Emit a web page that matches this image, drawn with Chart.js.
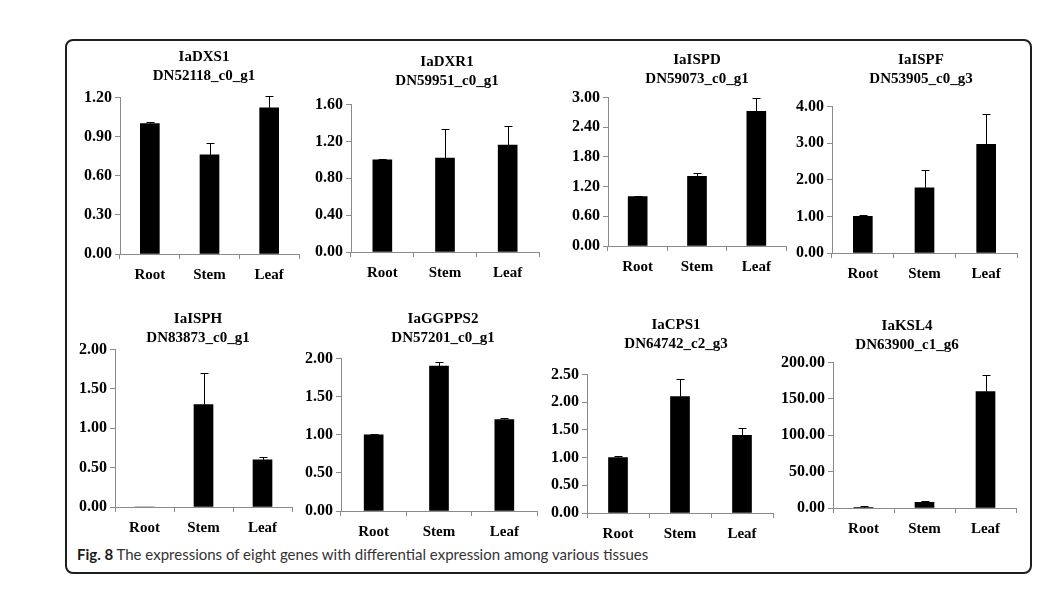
<!DOCTYPE html>
<html>
<head>
<meta charset="utf-8">
<script src="https://cdn.jsdelivr.net/npm/chart.js@4.4.1/dist/chart.umd.min.js"></script>
<style>
  body { margin: 0; background: #fff; width: 1053px; height: 590px; position: relative; overflow: hidden; }
  #frame { position: absolute; left: 65px; top: 39px; width: 967px; height: 535px; box-sizing: border-box;
           border: 2px solid #1e1e1e; border-radius: 8px; }
  canvas { position: absolute; }
  #caption { position: absolute; left: 77px; top: 545px; font-family: Lato, 'Open Sans', sans-serif;
             font-size: 15px; color: #333; white-space: nowrap; }
  #caption b { color: #1a1a1a; }
</style>
</head>
<body>
<div id="frame"></div>
<div id="caption"><b>Fig. 8</b> The expressions of eight genes with differential expression among various tissues</div>

<script>
// data
var tissues = ['Root', 'Stem', 'Leaf'];
var geneNames = ['IaDXS1', 'IaDXR1', 'IaISPD', 'IaISPF', 'IaISPH', 'IaGGPPS2', 'IaCPS1', 'IaKSL4'];
var geneIds = ['DN52118_c0_g1', 'DN59951_c0_g1', 'DN59073_c0_g1', 'DN53905_c0_g3',
               'DN83873_c0_g1', 'DN57201_c0_g1', 'DN64742_c2_g3', 'DN63900_c1_g6'];

var dxs1 = [1.00, 0.76, 1.12],   dxs1Err = [0.01, 0.09, 0.09];
var dxr1 = [1.00, 1.02, 1.16],   dxr1Err = [0.01, 0.31, 0.21];
var ispd = [1.00, 1.41, 2.72],   ispdErr = [0.01, 0.07, 0.27];
var ispf = [1.00, 1.78, 2.97],   ispfErr = [0.03, 0.49, 0.82];
var isph = [0.00, 1.30, 0.60],   isphErr = [0.00, 0.40, 0.03];
var ggpps2 = [1.00, 1.90, 1.20], ggpps2Err = [0.01, 0.05, 0.02];
var cps1 = [1.00, 2.10, 1.40],   cps1Err = [0.02, 0.31, 0.13];
var ksl4 = [1.0, 7.7, 160.0],    ksl4Err = [2.2, 2.3, 22.7];

var allValues = [dxs1, dxr1, ispd, ispf, isph, ggpps2, cps1, ksl4];
var allErrors = [dxs1Err, dxr1Err, ispdErr, ispfErr, isphErr, ggpps2Err, cps1Err, ksl4Err];

// y axis ticks: top value and step
var yMax  = [1.2, 1.6, 3.0, 4.0, 2.0, 2.0, 2.5, 200];
var yStep = [0.3, 0.4, 0.6, 1.0, 0.5, 0.5, 0.5, 50];

// where each plot sits on the page: plot left/right/top/bottom, first title line, title center
var boxes = [
  {l: 120, r: 299,  t: 97,  b: 253, t1: 57,  tc: 204},
  {l: 351, r: 539,  t: 104, b: 251, t1: 62,  tc: 447},
  {l: 608, r: 786,  t: 97,  b: 245, t1: 60,  tc: 697},
  {l: 832, r: 1017, t: 106, b: 252, t1: 60,  tc: 921},
  {l: 115, r: 292,  t: 349, b: 506, t1: 319, tc: 198},
  {l: 341, r: 537,  t: 358, b: 510, t1: 319, tc: 443},
  {l: 587, r: 773,  t: 374, b: 512, t1: 325, tc: 676},
  {l: 833, r: 1016, t: 362, b: 507, t1: 326, tc: 907}
];

var serif = "'Liberation Serif', 'Times New Roman', serif";
var axisGray = '#8a8a8a';
var LH = 19;      // title line height
var X_H = 36;     // x axis band height

// error bars, drawn from the data through the y scale
var errorBars = {
    id: 'errorBars',
    afterDatasetsDraw: function (chart) {
        var errs = chart.options.plugins.errorBars.errors;
        var vals = chart.data.datasets[0].data;
        var y = chart.scales.y;
        var ctx = chart.ctx;
        ctx.save();
        ctx.strokeStyle = '#000';
        ctx.lineWidth = 1;
        chart.getDatasetMeta(0).data.forEach(function (bar, i) {
            if (!errs[i]) return;
            var x = Math.round(bar.x) + 0.5;
            var top = Math.round(y.getPixelForValue(vals[i] + errs[i])) + 0.5;
            ctx.beginPath();
            ctx.moveTo(x, bar.y);
            ctx.lineTo(x, top);
            ctx.moveTo(x - 4, top);
            ctx.lineTo(x + 4, top);
            ctx.stroke();
        });
        ctx.restore();
    }
};

boxes.forEach(function (bx, k) {
    // canvas is symmetric around the title center, so the title lands where it should
    var left = Math.min(bx.l - 62, 2 * bx.tc - bx.r - 2);
    var right = 2 * bx.tc - left;
    var yW = bx.l - left;
    var rightW = right - bx.r;
    var top = bx.t1 - LH / 2 - 4;
    var height = bx.b + X_H - top;
    var padBottom = bx.t - (bx.t1 + 1.5 * LH);

    var cv = document.createElement('canvas');
    cv.width = right - left;
    cv.height = Math.round(height);
    cv.style.left = left + 'px';
    cv.style.top = top + 'px';
    document.body.appendChild(cv);

    new Chart(cv.getContext('2d'), {
        type: 'bar',
        data: {
            labels: tissues,
            datasets: [{
                data: allValues[k],
                backgroundColor: '#000',
                borderWidth: 0,
                barThickness: 19
            }]
        },
        options: {
            responsive: false,
            animation: false,
            layout: { padding: 0 },
            plugins: {
                legend: { display: false },
                tooltip: { enabled: false },
                title: {
                    display: true,
                    text: [geneNames[k], geneIds[k]],
                    color: '#000',
                    font: { family: serif, size: 15, weight: 'bold', lineHeight: LH / 15 },
                    padding: { top: 4, bottom: padBottom }
                },
                errorBars: { errors: allErrors[k] }
            },
            scales: {
                x: {
                    grid: { offset: true, drawOnChartArea: false, tickLength: 5, color: axisGray },
                    border: { color: axisGray, width: 1 },
                    ticks: { color: '#000', padding: 7, font: { family: serif, size: 15, weight: 'bold' } },
                    afterFit: function (s) { s.height = X_H; }
                },
                y: {
                    min: 0,
                    max: yMax[k],
                    grid: { drawOnChartArea: false, tickLength: 5, color: axisGray },
                    border: { color: axisGray, width: 1 },
                    ticks: {
                        stepSize: yStep[k],
                        color: '#000',
                        padding: 3,
                        font: { family: serif, size: 16, weight: 'bold' },
                        callback: function (v) { return v.toFixed(2); }
                    },
                    afterFit: function (s) { s.width = yW; }
                },
                // empty spacer on the right, keeps the plot edge in place
                spacer: {
                    type: 'linear',
                    position: 'right',
                    grid: { display: false },
                    border: { display: false },
                    ticks: { display: false },
                    afterFit: function (s) { s.width = rightW; }
                }
            }
        },
        plugins: [errorBars]
    });
});
</script>
</body>
</html>
